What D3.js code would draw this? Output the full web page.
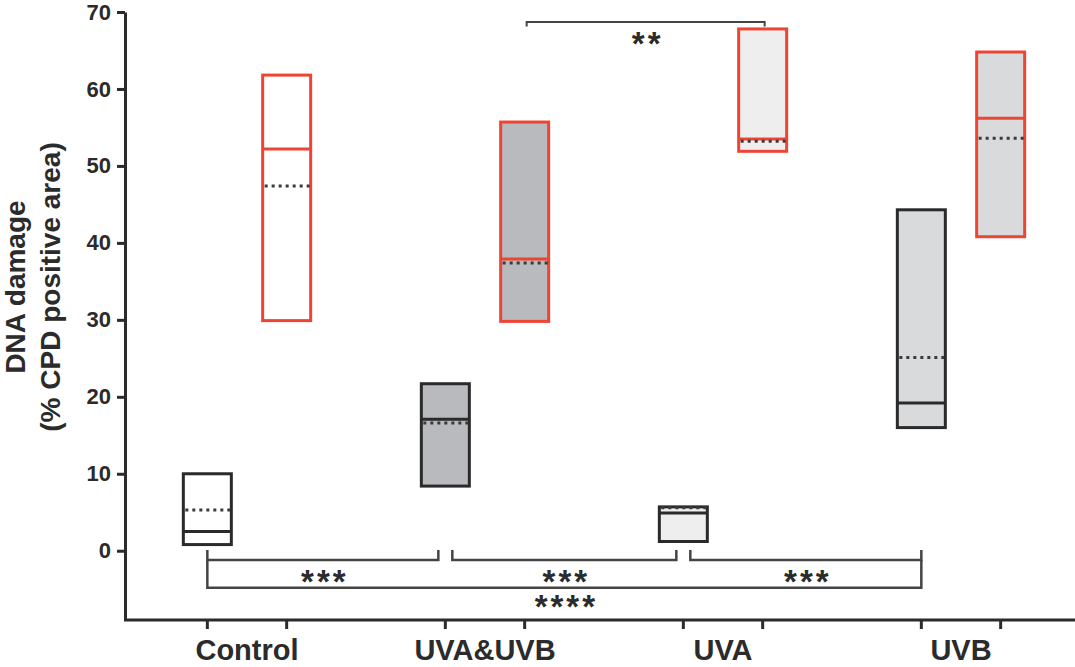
<!DOCTYPE html>
<html>
<head>
<meta charset="utf-8">
<script src="https://cdnjs.cloudflare.com/ajax/libs/d3/7.8.5/d3.min.js"></script>
<style>
body { margin: 0; background: #fff; }
text { font-family: "Liberation Sans", Arial, sans-serif; font-weight: bold; fill: #2b2b2b; }
</style>
</head>
<body>
<script>
var groups = ["Control", "UVA&UVB", "UVA", "UVB"];
var series = ["first", "second"];

// first series (black boxes)
var firstMin    = [0.8, 8.4, 1.2, 16.0];
var firstMax    = [10.0, 21.7, 5.7, 44.3];
var firstMedian = [2.5, 17.1, 4.9, 19.2];
var firstMean   = [5.3, 16.6, 5.6, 25.1];

// second series (red boxes)
var secondMin    = [29.9, 29.8, 51.9, 40.8];
var secondMax    = [61.8, 55.7, 67.8, 64.8];
var secondMedian = [52.2, 37.9, 53.5, 56.2];
var secondMean   = [47.4, 37.4, 53.2, 53.6];

var yTicks = [0, 10, 20, 30, 40, 50, 60, 70];

// significance brackets: [from, to, stars]
var bottomTests = [["Control", "UVA&UVB", "***"], ["UVA&UVB", "UVA", "***"], ["UVA", "UVB", "***"]];
var longTest = ["Control", "UVB", "****"];
var topTest = ["UVA&UVB", "UVA", "**"];

var fills = ["#ffffff", "#b9babd", "#eeeeee", "#d9dadc"];
var strokes = {first: "#2a2a2a", second: "#ee4434"};

var width = 1075, height = 667;

var svg = d3.select("body").append("svg")
    .attr("width", width)
    .attr("height", height);

var x = d3.scaleBand()
    .domain(groups)
    .range([128, 1080]);

var xs = d3.scalePoint()
    .domain(series)
    .range([0, x.bandwidth()])
    .padding(1);

var y = d3.scaleLinear()
    .domain([-9, 70])
    .range([620, 12]);

function cx(g, s) { return x(g) + xs(s); }

var boxes = [];
groups.forEach(function(g, i) {
  boxes.push({group: g, s: "first", min: firstMin[i], max: firstMax[i], median: firstMedian[i], mean: firstMean[i], fill: fills[i]});
  boxes.push({group: g, s: "second", min: secondMin[i], max: secondMax[i], median: secondMedian[i], mean: secondMean[i], fill: fills[i]});
});

var boxW = 48;

// y axis
var yAxis = svg.append("g")
    .attr("transform", "translate(125,0)")
    .call(d3.axisLeft(y).tickValues(yTicks).tickSize(8).tickSizeOuter(0).tickPadding(6));
yAxis.select(".domain").attr("stroke", "#2b2b2b").attr("stroke-width", 3);
yAxis.selectAll(".tick line").attr("stroke", "#2b2b2b").attr("stroke-width", 3);
yAxis.selectAll(".tick text").style("font-size", "22px").attr("fill", "#2b2b2b");

// x axis
svg.append("line")
    .attr("x1", 124).attr("x2", width)
    .attr("y1", y(-9)).attr("y2", y(-9))
    .attr("stroke", "#2b2b2b").attr("stroke-width", 3);

svg.selectAll(".xtick")
    .data(boxes)
    .enter().append("line")
    .attr("class", "xtick")
    .attr("x1", function(d) { return cx(d.group, d.s); })
    .attr("x2", function(d) { return cx(d.group, d.s); })
    .attr("y1", y(-9)).attr("y2", y(-9) + 9)
    .attr("stroke", "#2b2b2b").attr("stroke-width", 3);

var xAxis = svg.append("g")
    .attr("transform", "translate(0," + y(-9) + ")")
    .call(d3.axisBottom(x).tickSize(0).tickPadding(19));
xAxis.select(".domain").remove();
xAxis.selectAll(".tick text").style("font-size", "29px").attr("fill", "#2b2b2b");

// y label
var ylab = svg.append("text")
    .attr("transform", "translate(0,287) rotate(-90)")
    .style("text-anchor", "middle")
    .style("font-size", "28px");
ylab.append("tspan").attr("x", 0).attr("y", 25).text("DNA damage");
ylab.append("tspan").attr("x", 0).attr("y", 60).text("(% CPD positive area)");

// boxes
var box = svg.selectAll(".box")
    .data(boxes)
    .enter().append("g")
    .attr("class", "box");

box.append("rect")
    .attr("x", function(d) { return cx(d.group, d.s) - boxW / 2; })
    .attr("y", function(d) { return y(d.max); })
    .attr("width", boxW)
    .attr("height", function(d) { return y(d.min) - y(d.max); })
    .attr("fill", function(d) { return d.fill; })
    .attr("stroke", function(d) { return strokes[d.s]; })
    .attr("stroke-width", 3);

box.append("line")
    .attr("x1", function(d) { return cx(d.group, d.s) - boxW / 2; })
    .attr("x2", function(d) { return cx(d.group, d.s) + boxW / 2; })
    .attr("y1", function(d) { return y(d.median); })
    .attr("y2", function(d) { return y(d.median); })
    .attr("stroke", function(d) { return strokes[d.s]; })
    .attr("stroke-width", 3);

box.append("line")
    .attr("x1", function(d) { return cx(d.group, d.s) - boxW / 2 + 2; })
    .attr("x2", function(d) { return cx(d.group, d.s) + boxW / 2; })
    .attr("y1", function(d) { return y(d.mean); })
    .attr("y2", function(d) { return y(d.mean); })
    .attr("stroke", "#3a3a3a")
    .attr("stroke-width", 3)
    .attr("stroke-dasharray", "3,4");

// brackets
var line = d3.line();

function bracket(x1, x2, yTop1, yTop2, yLevel, width) {
  svg.append("path")
      .attr("d", line([[x1, y(yTop1)], [x1, y(yLevel)], [x2, y(yLevel)], [x2, y(yTop2)]]))
      .attr("fill", "none")
      .attr("stroke", "#444")
      .attr("stroke-width", width);
}

function stars(xm, ym, label) {
  svg.append("text")
      .attr("x", xm + 2)
      .attr("y", y(ym) + 18)
      .style("text-anchor", "middle")
      .style("font-size", "33px")
      .style("letter-spacing", "3px")
      .text(label);
}

bottomTests.forEach(function(t, i) {
  var x1 = cx(t[0], "first") + (i > 0 ? 7 : 0);
  var x2 = cx(t[1], "first") - (i < bottomTests.length - 1 ? 7 : 0);
  bracket(x1, x2, 0.1, 0.1, -1.2, 2.5);
  stars((x1 + x2) / 2, -3.1, t[2]);
});

var lx1 = cx(longTest[0], "first"), lx2 = cx(longTest[1], "first");
bracket(lx1, lx2, -1.2, -1.2, -4.8, 2.5);
stars((lx1 + lx2) / 2, -6.4, longTest[2]);

var tx1 = cx(topTest[0], "second") + 2, tx2 = cx(topTest[1], "second") + 2;
bracket(tx1, tx2, 68.1, 68.1, 68.7, 2);
stars((tx1 + tx2) / 2, 66.8, topTest[2]);
</script>
</body>
</html>
